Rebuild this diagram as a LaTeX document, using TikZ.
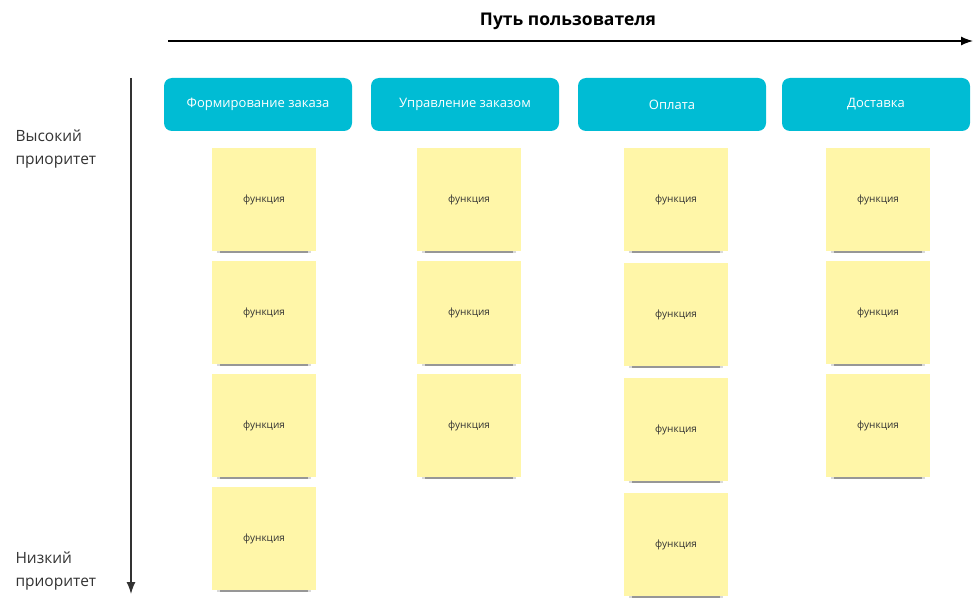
\documentclass[tikz,border=0pt]{standalone}
\usepackage{fontspec}
\setmainfont{Open Sans}
\usepackage{tikz}
\usetikzlibrary{arrows.meta}
\usetikzlibrary{positioning}
\usetikzlibrary{shadows}
\tikzset{>={Latex[length=12pt,width=9pt]}}
\usepackage{xcolor}
\definecolor{headblue}{RGB}{0,188,212}
\definecolor{noteyellow}{RGB}{255,246,168}
\definecolor{textgray}{RGB}{51,51,51}
\tikzstyle{stage}=[rectangle,rounded corners=8pt,fill=headblue,text=white,minimum width=188pt,minimum height=53pt,inner sep=0pt,font=\fontsize{13}{15}\selectfont]
\tikzstyle{note}=[rectangle,fill=noteyellow,minimum width=104pt,minimum height=103pt,inner sep=0pt,text=textgray,font=\fontsize{10}{12}\selectfont,
	drop shadow={shadow xshift=0pt,shadow yshift=-8pt,shadow scale=0.9,opacity=0.15,fill=black},
	drop shadow={shadow xshift=0pt,shadow yshift=-12pt,shadow scale=0.84,opacity=0.3,fill=black}]
\def\colsep{207}
\def\notesep{113}

\begin{document}
\begin{tikzpicture}[
	x=1pt, y=-1pt,
	prio/.style={align=left, anchor=north west, text=textgray, font=\fontsize{15.5}{23}\selectfont},
	]
	
	\useasboundingbox (0,0) rectangle (977,615);
	
	% user path
	\node[font=\fontsize{17.5}{20}\selectfont\bfseries] (title) at (568,21) {Путь пользователя};
	\coordinate (pstart) at (168,41);
	\coordinate (pend) at (973,41);
	\draw[->, line width=1.3pt] (pstart) -- (pend);
	
	% priority
	\coordinate (qstart) at (131,78);
	\coordinate (qend) at (131,594);
	\draw[->, line width=1.3pt, textgray] (qstart) -- (qend);
	\node[prio] (high) at (12,126) {Высокий\\приоритет};
	\node[prio] (low) at (12,548) {Низкий\\приоритет};
	
	% stages
	\node[stage] (h1) at (258,104.5) {Формирование заказа};
	\node[stage] (h2) at (465,104.5) {Управление заказом};
	\node[stage] (h3) at (672,104.5) {Оплата};
	\node[stage] (h4) at (876,104.5) {Доставка};
	
	% features
	\foreach \r in {1,...,4}
	\node[note] (n1\r) at (264,199.5+\notesep*\r-\notesep) {функция};
	
	\foreach \r in {1,...,3}{
		\node[note] (n2\r) at (469,199.5+\notesep*\r-\notesep) {функция};
		\node[note] (n4\r) at (878,199.5+\notesep*\r-\notesep) {функция};
	}
	
	\foreach \r in {1,...,4}
	\node[note] (n3\r) at (676,199.5+115*\r-115) {функция};
	
\end{tikzpicture}
\end{document}
